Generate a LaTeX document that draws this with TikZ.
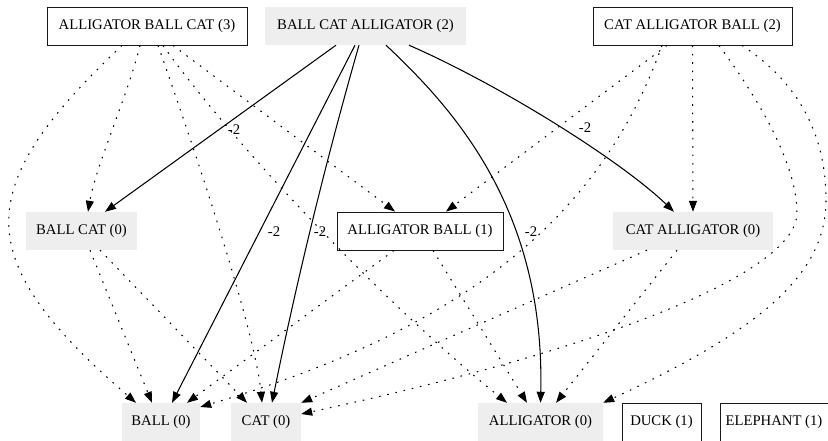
\documentclass[tikz,border=0pt]{standalone}
\usepackage{fontspec}
\setmainfont{Liberation Serif}
\usetikzlibrary{arrows.meta}
\definecolor{nodegray}{RGB}{238,238,238}
\begin{document}
\begin{tikzpicture}[x=1pt,y=-1pt,
  every node/.style={font=\fontsize{14.7}{17}\selectfont, inner sep=0pt},
  boxed/.style={draw=black!90, line width=0.9pt, fill=white, minimum height=38pt},
  grayed/.style={fill=nodegray, minimum height=38pt},
  solidedge/.style={line width=1.05pt, -{Triangle[length=11pt,width=8pt]}},
  dotedge/.style={solidedge, dash pattern=on 1.6pt off 6.8pt},
  lbl/.style={fill=none}]
\useasboundingbox (0,0) rectangle (828,441);
% nodes
\node[boxed, minimum width=200pt] (abc) at (147,26) {ALLIGATOR BALL CAT (3)};
\node[grayed, minimum width=201pt] (bca) at (365.5,26) {BALL CAT ALLIGATOR (2)};
\node[boxed, minimum width=199pt] (cab) at (692.5,26) {CAT ALLIGATOR BALL (2)};
\node[grayed, minimum width=111pt] (bc) at (81.5,231) {BALL CAT (0)};
\node[boxed, minimum width=166pt] (ab) at (420,231) {ALLIGATOR BALL (1)};
\node[grayed, minimum width=160pt] (ca) at (693,231) {CAT ALLIGATOR (0)};
\node[grayed, minimum width=78pt] (ball) at (161,422) {BALL (0)};
\node[grayed, minimum width=70pt] (cat) at (266,422) {CAT (0)};
\node[grayed, minimum width=125pt] (all) at (540.5,422) {ALLIGATOR (0)};
\node[boxed, minimum width=79pt] (duck) at (661.5,422) {DUCK (1)};
\node[boxed, minimum width=108pt] (eleph) at (774,422) {ELEPHANT (1)};
% edges from ALLIGATOR BALL CAT
\draw[dotedge] ([xshift=-25pt]abc.south) .. controls (-30,189) and (-30,259) .. ([xshift=-25pt]ball.north);
\draw[dotedge] ([xshift=-7pt]abc.south) .. controls (128,95) and (96,165) .. ([xshift=6.5pt]bc.north);
\draw[dotedge] ([xshift=11pt]abc.south) .. controls (195,150) and (255,330) .. ([xshift=-4pt]cat.north);
\draw[dotedge] ([xshift=26pt]abc.south) -- ([xshift=-25pt]ab.north);
\draw[dotedge] ([xshift=16pt]abc.south) .. controls (230,140) and (380,300) .. ([xshift=-33.5pt]all.north);
% edges from BALL CAT ALLIGATOR
\draw[solidedge] ([xshift=-29.5pt]bca.south) -- ([xshift=23.5pt]bc.north);
\draw[solidedge] ([xshift=-10.5pt]bca.south) -- ([xshift=11pt]ball.north);
\draw[solidedge] ([xshift=-6.5pt]bca.south) .. controls (325,164) and (296,284) .. ([xshift=6pt]cat.north);
\draw[solidedge] ([xshift=20.5pt]bca.south) .. controls (455,110) and (545,210) .. (all.north);
\draw[solidedge] ([xshift=43.5pt]bca.south) .. controls (500,85) and (620,160) .. ([xshift=-19pt]ca.north);
% edges from CAT ALLIGATOR BALL
\draw[dotedge] ([xshift=-25.5pt]cab.south) -- ([xshift=26pt]ab.north);
\draw[dotedge] ([xshift=-30.5pt]cab.south) .. controls (600,220) and (460,330) .. ([yshift=15pt]ball.east);
\draw[dotedge] (cab.south) -- (ca.north);
\draw[dotedge] ([xshift=26.5pt]cab.south) .. controls (752,90) and (797,160) .. (797,213) .. controls (797,270) and (620,345) .. ([yshift=8pt]cat.east);
\draw[dotedge] ([xshift=49.5pt]cab.south) .. controls (810,90) and (826,150) .. (826,200) .. controls (826,275) and (760,330) .. (all.north east);
% edges from the middle row
\draw[dotedge] ([xshift=8.5pt]bc.south) -- ([xshift=-9pt]ball.north);
\draw[dotedge] ([xshift=18.5pt]bc.south) -- ([xshift=-19pt]cat.north);
\draw[dotedge] ([xshift=-26pt]ab.south) -- ([xshift=26pt]ball.north);
\draw[dotedge] ([xshift=13pt]ab.south) -- ([xshift=-13.5pt]all.north);
\draw[dotedge] ([xshift=-46pt]ca.south) -- (cat.north east);
\draw[dotedge] ([xshift=-16pt]ca.south) -- ([xshift=15.5pt]all.north);
% edge labels
\node[lbl] (l1) at (234,130) {-2};
\node[lbl] (l2) at (274,232) {-2};
\node[lbl] (l3) at (320,232) {-2};
\node[lbl] (l4) at (531,232) {-2};
\node[lbl] (l5) at (585,128) {-2};
\end{tikzpicture}
\end{document}
